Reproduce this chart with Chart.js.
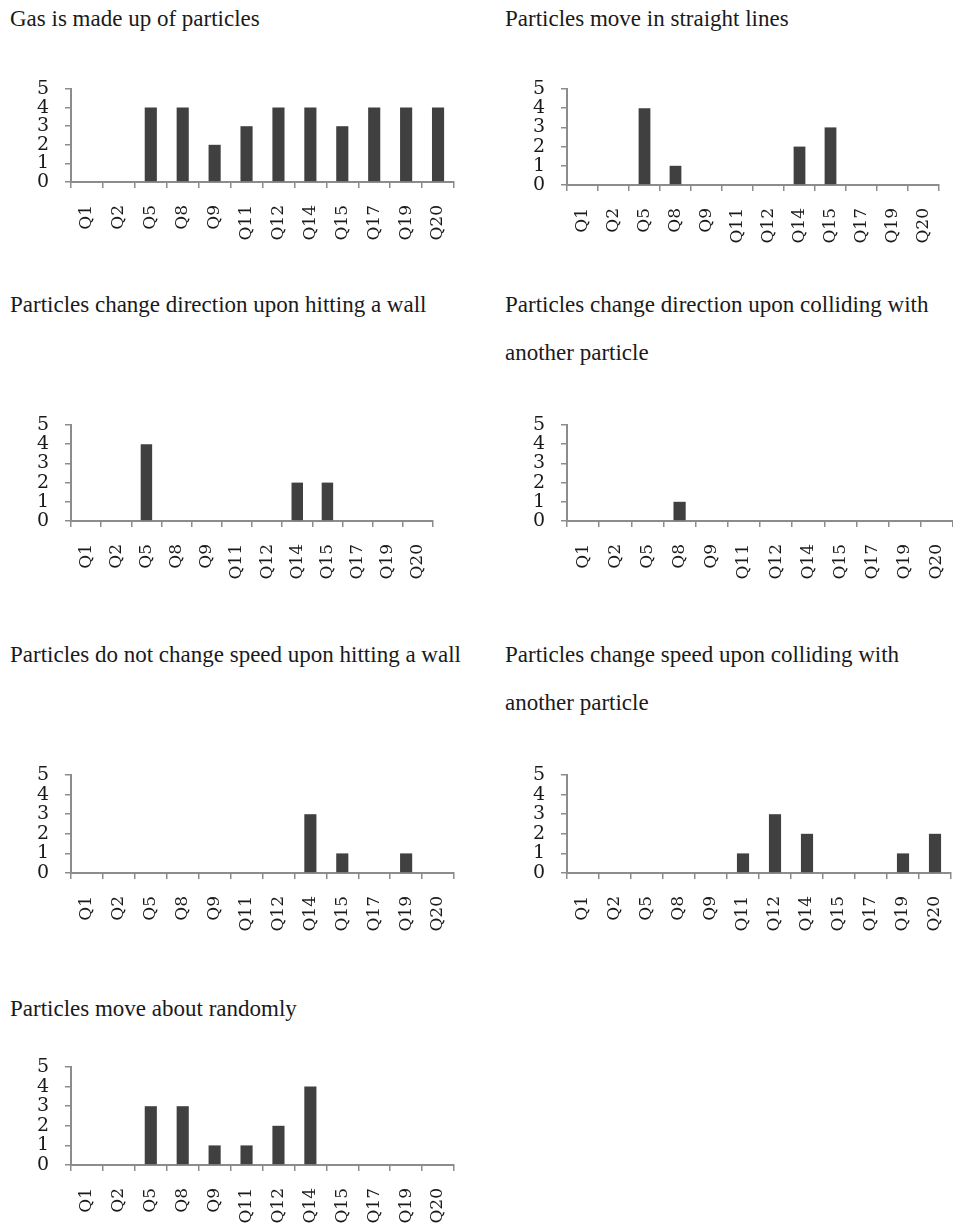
<!DOCTYPE html>
<html>
<head>
<meta charset="utf-8">
<script src="https://cdn.jsdelivr.net/npm/chart.js@4.4.0/dist/chart.umd.min.js"></script>
<style>
body { margin: 0; width: 953px; height: 1227px; overflow: hidden; background: #fff; position: relative; }
.title { position: absolute; font-family: "Liberation Serif", "Times New Roman", serif; font-size: 23px; line-height: 48px; color: #1a1a1a; white-space: nowrap; }
.box { position: absolute; }
</style>
</head>
<body>

<div class="title" style="left:10px; top:-5px;">Gas is made up of particles</div>
<div class="title" style="left:505px; top:-5px;">Particles move in straight lines</div>
<div class="title" style="left:10px; top:281px;">Particles change direction upon hitting a wall</div>
<div class="title" style="left:505px; top:281px;">Particles change direction upon colliding with<br>another particle</div>
<div class="title" style="left:10px; top:631px;">Particles do not change speed upon hitting a wall</div>
<div class="title" style="left:505px; top:631px;">Particles change speed upon colliding with<br>another particle</div>
<div class="title" style="left:10px; top:985px;">Particles move about randomly</div>

<div class="box" id="boxA"><canvas id="chartA"></canvas></div>
<div class="box" id="boxB"><canvas id="chartB"></canvas></div>
<div class="box" id="boxC"><canvas id="chartC"></canvas></div>
<div class="box" id="boxD"><canvas id="chartD"></canvas></div>
<div class="box" id="boxE"><canvas id="chartE"></canvas></div>
<div class="box" id="boxF"><canvas id="chartF"></canvas></div>
<div class="box" id="boxG"><canvas id="chartG"></canvas></div>

<script>
// categories and tick labels
const questions = ['Q1', 'Q2', 'Q5', 'Q8', 'Q9', 'Q11', 'Q12', 'Q14', 'Q15', 'Q17', 'Q19', 'Q20'];
const yTicks = [0, 1, 2, 3, 4, 5];

// one series per small chart
const madeOfParticles     = [0, 0, 4, 4, 2, 3, 4, 4, 3, 4, 4, 4];
const straightLines       = [0, 0, 4, 1, 0, 0, 0, 2, 3, 0, 0, 0];
const directionWall       = [0, 0, 4, 0, 0, 0, 0, 2, 2, 0, 0, 0];
const directionCollide    = [0, 0, 0, 1, 0, 0, 0, 0, 0, 0, 0, 0];
const speedWallUnchanged  = [0, 0, 0, 0, 0, 0, 0, 3, 1, 0, 1, 0];
const speedCollideChanged = [0, 0, 0, 0, 0, 1, 3, 2, 0, 0, 1, 2];
const moveRandomly        = [0, 0, 3, 3, 1, 1, 2, 4, 0, 0, 0, 0];

const axisGray = '#8c8c8c';
const barColor = '#404040';

// axisX = y axis line, top = value 5, bottom = value 0, right = end of x axis
function drawChart(id, values, axisX, top, bottom, right) {
    var padTop = 15, padRight = 12, yW = 70, xH = 70;
    var left = axisX - yW;
    var box = document.getElementById('box' + id);
    box.style.left = left + 'px';
    box.style.top = (top - padTop) + 'px';
    box.style.width = (right - left + padRight) + 'px';
    box.style.height = (padTop + (bottom - top) + xH + 5) + 'px';

    new Chart(document.getElementById('chart' + id), {
        type: 'bar',
        data: {
            labels: questions,
            datasets: [{
                data: values,
                backgroundColor: barColor,
                borderWidth: 0,
                barPercentage: 0.38,
                categoryPercentage: 1
            }]
        },
        options: {
            responsive: true,
            maintainAspectRatio: false,
            animation: false,
            layout: { padding: { top: padTop, right: padRight, bottom: 5, left: 0 } },
            plugins: { legend: { display: false }, tooltip: { enabled: false } },
            scales: {
                x: {
                    offset: true,
                    grid: { offset: true, drawOnChartArea: false, drawTicks: true, tickLength: 6, color: axisGray, lineWidth: 1.5 },
                    border: { color: axisGray, width: 2 },
                    ticks: {
                        autoSkip: false, minRotation: 90, maxRotation: 90, padding: 17,
                        color: '#1a1a1a', font: { family: 'DejaVu Serif', size: 17 }
                    },
                    // fixed size, and no extra room for the edge labels
                    afterFit: function (s) { s.height = xH; s.paddingLeft = 0; s.paddingRight = 0; }
                },
                y: {
                    min: 0, max: 5,
                    grid: { drawOnChartArea: false, drawTicks: true, tickLength: 6, color: axisGray, lineWidth: 1.5 },
                    border: { color: axisGray, width: 2 },
                    ticks: {
                        autoSkip: false, stepSize: 1, padding: 16,
                        color: '#1a1a1a', font: { family: 'DejaVu Serif', size: 19, lineHeight: 1 }
                    },
                    afterBuildTicks: function (s) { s.ticks = yTicks.map(function (v) { return { value: v }; }); },
                    afterFit: function (s) { s.width = yW; s.paddingTop = 0; s.paddingBottom = 0; }
                }
            }
        }
    });
}

drawChart('A', madeOfParticles, 71, 89, 182, 454);
drawChart('B', straightLines, 567, 89, 185, 939);
drawChart('C', directionWall, 71, 425, 521, 433);
drawChart('D', directionCollide, 567, 425, 521, 953);
drawChart('E', speedWallUnchanged, 71, 775, 873, 454);
drawChart('F', speedCollideChanged, 567, 775, 873, 951);
drawChart('G', moveRandomly, 71, 1067, 1165, 454);
</script>
</body>
</html>
